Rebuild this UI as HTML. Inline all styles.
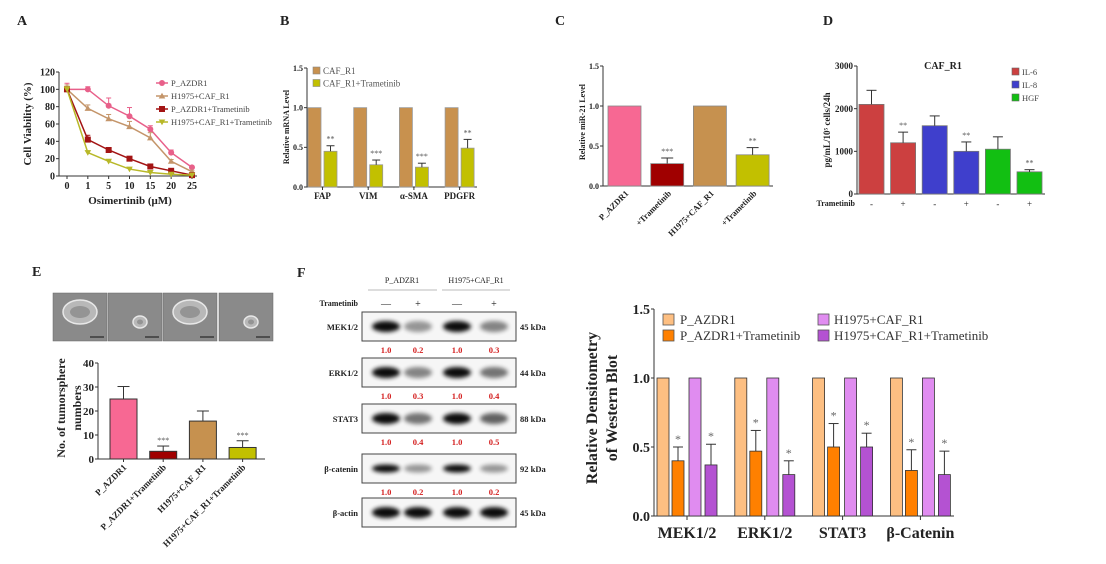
<!DOCTYPE html>
<html><head><meta charset="utf-8"><style>
html,body{margin:0;padding:0;background:#fff;width:1106px;height:564px;overflow:hidden}
svg{display:block}
</style></head><body>
<svg id="fig" xmlns="http://www.w3.org/2000/svg" width="1106" height="564" viewBox="0 0 1106 564">
<defs>
<filter id="blur" x="-50%" y="-50%" width="200%" height="200%"><feGaussianBlur stdDeviation="2.2"/></filter>
</defs>
</svg>
<script>
// ---------- DATA ----------
const aCats = ['0','1','5','10','15','20','25'];
const aSeriesNames = ['P_AZDR1','H1975+CAF_R1','P_AZDR1+Trametinib','H1975+CAF_R1+Trametinib'];
const aPink = [100,100,81,69,54,27,10];
const aPinkErr = [7,3,9,10,4,3,1];
const aTan = [100,78,66,57,44,17,5];
const aTanErr = [5,4,5,6,6,2,1];
const aRed = [100,42,30,20,11,6,1];
const aRedErr = [3,5,2,2,2,1,1];
const aOlive = [100,27,17,8,4,2,1];
const aOliveErr = [3,2,1,1,2,1,1];
const aTicks = [0,20,40,60,80,100,120];

const bCats = ['FAP','VIM','\u03b1-SMA','PDGFR'];
const bCtrl = [1,1,1,1];
const bTram = [0.45,0.28,0.25,0.49];
const bTramErr = [0.07,0.06,0.05,0.11];
const bStars = ['**','***','***','**'];
const bTicks = [0,0.5,1.0,1.5];

const cCats = ['P_AZDR1','+Trametinib','H1975+CAF_R1','+Trametinib'];
const cVals = [1,0.28,1,0.39];
const cErr = [0,0.07,0,0.09];
const cStars = ['','***','','**'];
const cTicks = [0,0.5,1.0,1.5];

const dSigns = ['-','+','-','+','-','+'];
const dVals = [2100,1200,1600,1000,1050,520];
const dErr = [330,250,230,220,290,50];
const dStars = ['','**','','**','','**'];
const dTicks = [0,1000,2000,3000];

const eCats = ['P_AZDR1','P_AZDR1+Trametinib','H1975+CAF_R1','H1975+CAF_R1+Trametinib'];
const eVals = [25,3.2,15.8,4.8];
const eErr = [5.2,2.2,4.2,2.8];
const eStars = ['','***','','***'];
const eTicks = [0,10,20,30,40];

const fProteins = ['MEK1/2','ERK1/2','STAT3','\u03b2-catenin','\u03b2-actin'];
const fKda = ['45 kDa','44 kDa','88 kDa','92 kDa','45 kDa'];
const fQuant = [[1.0,0.2,1.0,0.3],[1.0,0.3,1.0,0.4],[1.0,0.4,1.0,0.5],[1.0,0.2,1.0,0.2],[1,1,1,1]];

const gCats = ['MEK1/2','ERK1/2','STAT3','\u03b2-Catenin'];
const gPAZ = [1,1,1,1];
const gPAZTram = [0.40,0.47,0.50,0.33];
const gPAZTramErr = [0.10,0.15,0.17,0.15];
const gH = [1,1,1,1];
const gHTram = [0.37,0.30,0.50,0.30];
const gHTramErr = [0.15,0.10,0.10,0.17];
const gTicks = [0,0.5,1.0,1.5];

// ---------- HELPERS ----------
const NS='http://www.w3.org/2000/svg';
const svg=document.getElementById('fig');
const SERIF='"Liberation Serif", "DejaVu Serif", serif';
function mk(tag, attrs, name, parent){
  const e=document.createElementNS(NS,tag);
  for(const k in attrs) e.setAttribute(k, attrs[k]);
  
  
  (parent||svg).appendChild(e);
  return e;
}
function grp(name){ return mk('g',{},name); }
function txt(p,x,y,s,size,name,opt){
  opt=opt||{};
  const a={x:x,y:y,'font-family':SERIF,'font-size':size,'font-weight':opt.w||'bold','text-anchor':opt.a||'start',fill:opt.fill||'#222'};
  if(opt.rot!==undefined) a.transform='rotate('+opt.rot+' '+x+' '+y+')';
  const t=mk('text',a,name,p); t.textContent=s; return t;
}
function line(p,x1,y1,x2,y2,name,col,w){ return mk('line',{x1:x1,y1:y1,x2:x2,y2:y2,stroke:col||'#333','stroke-width':w||1},name,p); }
function errBar(p,x,yv,ye,cap,name,col){
  line(p,x,yv,x,ye,name,col||'#333',1);
  line(p,x-cap,ye,x+cap,ye,name+'-cap',col||'#333',1);
}
function yAxis(p,x,y0,y1,ticks,scale,fmt,size,prefix){
  line(p,x,y0,x,y1,prefix+'-y-axis');
  ticks.forEach(t=>{const y=scale(t); line(p,x-3,y,x,y,prefix+'-y-tick'); txt(p,x-4,y+size*0.35,fmt(t),size,prefix+'-y-tick-label',{a:'end'});});
}
function letter(x,y,s){ const g=grp('panel-label-'+s.toLowerCase()); txt(g,x,y,s,14,'panel-letter-'+s.toLowerCase()); }

// ---------- PANEL A ----------
(function(){
  const g=grp('panel-a-line-chart');
  letter(17,25,'A');
  const yA=v=>176-v/120*104, xA=i=>67+i*20.83;
  yAxis(g,59,176,72,aTicks,yA,t=>String(t),10,'a');
  line(g,59,176,197,176,'a-x-axis');
  aCats.forEach((c,i)=>{line(g,xA(i),176,xA(i),179,'a-x-tick');txt(g,xA(i),189,c,10,'a-x-tick-label',{a:'middle'});});
  txt(g,130,204,'Osimertinib (\u03bcM)',11,'a-x-axis-title',{a:'middle'});
  txt(g,31,124,'Cell Viability (%)',11,'a-y-axis-title',{a:'middle',rot:-90});
  const series=[[aPink,aPinkErr,'#e8608a','circle'],[aTan,aTanErr,'#c4956a','tri'],[aRed,aRedErr,'#a31414','sq'],[aOlive,aOliveErr,'#b8b828','dtri']];
  function marker(p,x,y,col,shape,name){
    if(shape==='circle') return mk('circle',{cx:x,cy:y,r:3,fill:col},name,p);
    if(shape==='sq') return mk('rect',{x:x-3,y:y-3,width:6,height:6,fill:col},name,p);
    if(shape==='tri') return mk('polygon',{points:(x-3.3)+','+(y+2.5)+' '+(x+3.3)+','+(y+2.5)+' '+x+','+(y-3.2),fill:col},name,p);
    return mk('polygon',{points:(x-3.3)+','+(y-2.5)+' '+(x+3.3)+','+(y-2.5)+' '+x+','+(y+3.2),fill:col},name,p);
  }
  series.forEach((s,k)=>{
    const sg=mk('g',{},'a-series-'+k,g);
    s[0].forEach((v,i)=>errBar(sg,xA(i),yA(v),yA(v+s[1][i]),2.5,'a-error-bar',s[2]));
    mk('polyline',{points:s[0].map((v,i)=>xA(i)+','+yA(v)).join(' '),fill:'none',stroke:s[2],'stroke-width':1.5},'a-line-'+k,sg);
    s[0].forEach((v,i)=>marker(sg,xA(i),yA(v),s[2],s[3],'a-point'));
    const ly=83+k*13;
    const lg=mk('g',{},'a-legend-entry',g);
    line(lg,156,ly,168,ly,'a-legend-line',s[2],1.5);
    marker(lg,162,ly,s[2],s[3],'a-legend-marker');
    txt(lg,171,ly+3,aSeriesNames[k],8.5,'a-legend-label',{w:'normal',fill:'#444'});
  });
})();

// ---------- PANEL B ----------
(function(){
  const g=grp('panel-b-bar-chart');
  letter(280,25,'B');
  const yB=v=>187-v/1.5*119;
  yAxis(g,307,187,68,bTicks,yB,t=>t.toFixed(1),8,'b');
  line(g,307,187,477,187,'b-x-axis');
  txt(g,289,127,'Relative mRNA Level',8,'b-y-axis-title',{a:'middle',rot:-90});
  bCats.forEach((c,i)=>{
    const x0=308+i*45.7;
    mk('rect',{x:x0,y:yB(bCtrl[i]),width:13,height:187-yB(bCtrl[i]),fill:'#c8914e',stroke:'#999','stroke-width':0.8},'b-bar-caf-r1',g);
    mk('rect',{x:x0+16,y:yB(bTram[i]),width:13,height:187-yB(bTram[i]),fill:'#c2c000',stroke:'#999','stroke-width':0.8},'b-bar-trametinib',g);
    errBar(g,x0+22.5,yB(bTram[i]),yB(bTram[i]+bTramErr[i]),4,'b-error-bar');
    txt(g,x0+22.5,yB(bTram[i]+bTramErr[i])-4,bStars[i],8,'b-significance',{a:'middle',w:'normal',fill:'#555'});
    line(g,x0+14.5,187,x0+14.5,190,'b-x-tick');
    txt(g,x0+14.5,199,c,9,'b-x-tick-label',{a:'middle'});
  });
  [['#c8914e','CAF_R1'],['#c2c000','CAF_R1+Trametinib']].forEach((l,k)=>{
    const lg=mk('g',{},'b-legend-entry',g);
    mk('rect',{x:313,y:67+k*12.5,width:7,height:7,fill:l[0],stroke:'#888','stroke-width':0.6},'b-legend-swatch',lg);
    txt(lg,323,74+k*12.5,l[1],9,'b-legend-label',{w:'normal',fill:'#555'});
  });
})();

// ---------- PANEL C ----------
(function(){
  const g=grp('panel-c-bar-chart');
  letter(555,25,'C');
  const yC=v=>186-v/1.5*120;
  yAxis(g,603,186,66,cTicks,yC,t=>t.toFixed(1),8,'c');
  line(g,603,186,773,186,'c-x-axis');
  txt(g,585,122,'Relative miR-21 Level',8,'c-y-axis-title',{a:'middle',rot:-90});
  const cols=['#f76893','#a00000','#c6914f','#c2c000'];
  cVals.forEach((v,i)=>{
    const x0=608+i*42.7;
    mk('rect',{x:x0,y:yC(v),width:33,height:186-yC(v),fill:cols[i],stroke:'#888','stroke-width':0.8},'c-bar',g);
    if(cErr[i]>0){errBar(g,x0+16.5,yC(v),yC(v+cErr[i]),6,'c-error-bar');
      txt(g,x0+16.5,yC(v+cErr[i])-4,cStars[i],8,'c-significance',{a:'middle',w:'normal',fill:'#555'});}
    txt(g,x0+21,194,cCats[i],8.5,'c-x-tick-label',{a:'end',rot:-45});
  });
})();

// ---------- PANEL D ----------
(function(){
  const g=grp('panel-d-bar-chart');
  letter(823,25,'D');
  const yD=v=>194-v/3000*128;
  yAxis(g,857,194,66,dTicks,yD,t=>String(t),9,'d');
  line(g,857,194,1045,194,'d-x-axis');
  txt(g,830,130,'pg/mL/10\u2075 cells/24h',9,'d-y-axis-title',{a:'middle',rot:-90});
  txt(g,943,69,'CAF_R1',10,'d-chart-title',{a:'middle'});
  txt(g,855,206,'Trametinib',8,'d-trametinib-label',{a:'end'});
  const cols=['#cc4040','#cc4040','#3f3fcc','#3f3fcc','#12bf12','#12bf12'];
  dVals.forEach((v,i)=>{
    const x0=859+i*31.6;
    mk('rect',{x:x0,y:yD(v),width:25,height:194-yD(v),fill:cols[i],stroke:'#777','stroke-width':0.8},'d-bar',g);
    errBar(g,x0+12.5,yD(v),yD(v+dErr[i]),5,'d-error-bar');
    if(dStars[i]) txt(g,x0+12.5,yD(v+dErr[i])-4,dStars[i],8,'d-significance',{a:'middle',w:'normal',fill:'#555'});
    txt(g,x0+12.5,207,dSigns[i],9,'d-treatment-sign',{a:'middle',w:'normal'});
  });
  [['#cc4040','IL-6'],['#3f3fcc','IL-8'],['#12bf12','HGF']].forEach((l,k)=>{
    const lg=mk('g',{},'d-legend-entry',g);
    mk('rect',{x:1012,y:68+k*13,width:7,height:7,fill:l[0],stroke:'#666','stroke-width':0.6},'d-legend-swatch',lg);
    txt(lg,1022,75+k*13,l[1],8.5,'d-legend-label',{w:'normal',fill:'#444'});
  });
})();

// ---------- PANEL E ----------
(function(){
  const g=grp('panel-e-tumorsphere');
  letter(32,276,'E');
  const ix=[53,108,163,219];
  ix.forEach((x,i)=>{
    const ig=mk('g',{},'e-micrograph',g);
    mk('rect',{x:x,y:293,width:54,height:48,fill:'#8a8a8a',stroke:'#666','stroke-width':0.5},'e-micrograph-bg',ig);
    const big=(i===0||i===2);
    const cx=x+(big?27:32), cy=big?312:322;
    mk('ellipse',{cx:cx,cy:cy,rx:big?17:7,ry:big?12:6,fill:'#b8b8b8',stroke:'#e8e8e8','stroke-width':1.5},'e-sphere',ig);
    mk('ellipse',{cx:cx,cy:cy,rx:big?10:3,ry:big?6:2.5,fill:'#707070',opacity:0.5},'e-sphere-core',ig);
    line(ig,x+37,337,x+51,337,'e-scale-bar','#111',1);
  });
  const yE=v=>459-v/40*96;
  yAxis(g,98,459,363,eTicks,yE,t=>String(t),11,'e');
  line(g,98,459,265,459,'e-x-axis');
  txt(g,65,408,'No. of tumorsphere',12,'e-y-axis-title',{a:'middle',rot:-90});
  txt(g,81,408,'numbers',12,'e-y-axis-title-2',{a:'middle',rot:-90});
  const cols=['#f76893','#a00000','#c6914f','#c2c000'];
  eVals.forEach((v,i)=>{
    const x0=110+i*39.7;
    mk('rect',{x:x0,y:yE(v),width:27,height:459-yE(v),fill:cols[i],stroke:'#333','stroke-width':1},'e-bar',g);
    errBar(g,x0+13.5,yE(v),yE(v+eErr[i]),6,'e-error-bar');
    if(eStars[i]) txt(g,x0+13.5,yE(v+eErr[i])-3,eStars[i],8,'e-significance',{a:'middle',w:'normal',fill:'#555'});
    line(g,x0+13.5,459,x0+13.5,462,'e-x-tick');
    txt(g,x0+17,468,eCats[i],9,'e-x-tick-label',{a:'end',rot:-45});
  });
})();

// ---------- PANEL F ----------
(function(){
  const g=grp('panel-f-western-blot');
  letter(297,277,'F');
  txt(g,402,283,'P_ADZR1',8,'f-group-header',{a:'middle',w:'normal'});
  txt(g,476,283,'H1975+CAF_R1',8,'f-group-header',{a:'middle',w:'normal'});
  line(g,368,290,437,290,'f-group-underline','#bbb',1);
  line(g,442,290,510,290,'f-group-underline','#bbb',1);
  txt(g,358,306,'Trametinib',8,'f-trametinib-label',{a:'end'});
  const lanes=[386,418,457,494];
  ['\u2014','+','\u2014','+'].forEach((s,i)=>txt(g,lanes[i],307,s,10,'f-lane-sign',{a:'middle',w:'normal'}));
  const boxY=[312,358,404,454,498];
  fProteins.forEach((p,r)=>{
    const rg=mk('g',{},'f-blot-row',g);
    const y=boxY[r];
    mk('rect',{x:362,y:y,width:154,height:29,fill:'#f6f6f6',stroke:'#444','stroke-width':1},'f-blot-box',rg);
    lanes.forEach((lx,i)=>{
      const q=fQuant[r][i];
      mk('ellipse',{cx:lx,cy:y+14.5,rx:14,ry:r===3?4:5.5,fill:'#000',opacity:(0.25+0.7*q).toFixed(2),filter:'url(#blur)'},'f-band',rg);
    });
    txt(rg,358,y+18,p,8.5,'f-protein-label',{a:'end'});
    txt(rg,520,y+18,fKda[r],8.5,'f-kda-label');
    if(r<4) lanes.forEach((lx,i)=>txt(rg,lx,y+41,fQuant[r][i].toFixed(1),8.5,'f-quant-value',{a:'middle',fill:'#d42020'}));
  });
})();

// ---------- PANEL G ----------
(function(){
  const g=grp('panel-g-densitometry-chart');
  const yG=v=>516-v/1.5*207;
  yAxis(g,654,516,309,gTicks,yG,t=>t.toFixed(1),14,'g');
  line(g,654,516,954,516,'g-x-axis');
  txt(g,597,408,'Relative Densitometry',16,'g-y-axis-title',{a:'middle',rot:-90});
  txt(g,617,408,'of Western Blot',16,'g-y-axis-title-2',{a:'middle',rot:-90});
  const cols=['#fdbf82','#ff8000','#e08cf0','#b452d2'];
  const offs=[0,15,32,48];
  gCats.forEach((c,i)=>{
    const x0=657+i*77.8;
    const vals=[gPAZ[i],gPAZTram[i],gH[i],gHTram[i]];
    const errs=[0,gPAZTramErr[i],0,gHTramErr[i]];
    vals.forEach((v,k)=>{
      mk('rect',{x:x0+offs[k],y:yG(v),width:12,height:516-yG(v),fill:cols[k],stroke:'#333','stroke-width':0.8},'g-bar',g);
      if(errs[k]>0){
        errBar(g,x0+offs[k]+6,yG(v),yG(v+errs[k]),5,'g-error-bar');
        txt(g,x0+offs[k]+6,yG(v+errs[k])-4,'*',12,'g-significance',{a:'middle',w:'normal',fill:'#666'});
      }
    });
    line(g,x0+30,516,x0+30,520,'g-x-tick');
    txt(g,x0+30,538,c,16,'g-x-tick-label',{a:'middle'});
  });
  [['#fdbf82','P_AZDR1',663,680,314],['#ff8000','P_AZDR1+Trametinib',663,680,330],['#e08cf0','H1975+CAF_R1',818,834,314],['#b452d2','H1975+CAF_R1+Trametinib',818,834,330]].forEach(l=>{
    const lg=mk('g',{},'g-legend-entry',g);
    mk('rect',{x:l[2],y:l[4],width:11,height:11,fill:l[0],stroke:'#555','stroke-width':0.8},'g-legend-swatch',lg);
    txt(lg,l[3],l[4]+10,l[1],13,'g-legend-label',{w:'normal',fill:'#333'});
  });
})();
</script>
</body></html>
